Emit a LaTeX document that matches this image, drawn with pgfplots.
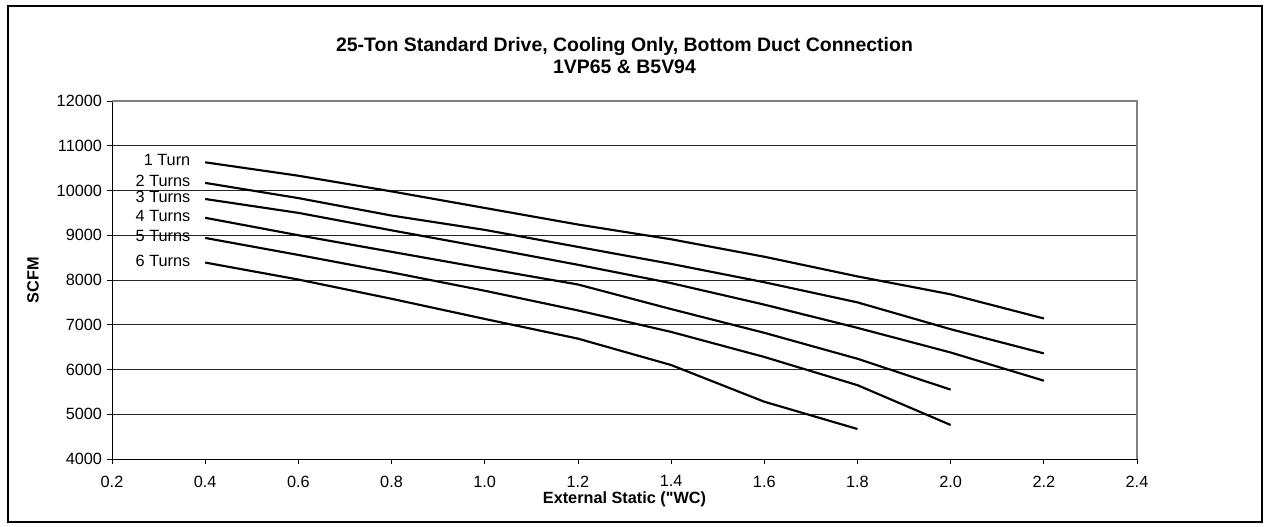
\documentclass[border=0pt]{standalone}
\usepackage{pgfplots}
\pgfplotsset{compat=1.18}
\usepackage{fontspec}
\setmainfont{Liberation Sans}[Ligatures=TeXOff]

% Fan performance: airflow (SCFM) against external static pressure
\pgfplotstableread{
x     y
0.4   10630
0.6   10330
0.8   9980
1.0   9610
1.2   9240
1.4   8910
1.6   8520
1.8   8080
2.0   7680
2.2   7140
}\turnA
\pgfplotstableread{
x     y
0.4   10170
0.6   9830
0.8   9440
1.0   9120
1.2   8740
1.4   8360
1.6   7950
1.8   7500
2.0   6900
2.2   6360
}\turnB
\pgfplotstableread{
x     y
0.4   9810
0.6   9500
0.8   9110
1.0   8730
1.2   8340
1.4   7930
1.6   7450
1.8   6930
2.0   6380
2.2   5750
}\turnC
\pgfplotstableread{
x     y
0.4   9390
0.6   9000
0.8   8630
1.0   8260
1.2   7900
1.4   7350
1.6   6820
1.8   6240
2.0   5550
}\turnD
\pgfplotstableread{
x     y
0.4   8940
0.6   8560
0.8   8170
1.0   7760
1.2   7320
1.4   6840
1.6   6280
1.8   5650
2.0   4760
}\turnE
\pgfplotstableread{
x     y
0.4   8390
0.6   8010
0.8   7580
1.0   7130
1.2   6690
1.4   6100
1.6   5280
1.8   4670
}\turnF

\tikzset{
  curve/.style={black, solid, line width=1.6pt, line join=round, no markers},
  curvelabel/.style={pos=0, anchor=east, xshift=-11pt, yshift=1.5pt,
    font=\fontsize{12.2}{14}\selectfont, inner sep=0pt, line width=0.4pt}}

\begin{document}
\begin{tikzpicture}[x=0.75pt,y=0.75pt]
\path[use as bounding box] (0,0) rectangle (1268,527);
\draw[line width=0.8pt] (8,5) rectangle (1262,521);
\begin{axis}[
  at={(84pt,51pt)}, anchor=south west,
  scale only axis, width=768.75pt, height=268.5pt,
  xmin=0.2, xmax=2.4, ymin=4000, ymax=12000,
  xtick={0.2,0.4,0.6,0.8,1.0,1.2,1.4,1.6,1.8,2.0,2.2,2.4},
  ytick={4000,5000,6000,7000,8000,9000,10000,11000,12000},
  /pgf/number format/assume math mode=true,
  xticklabel style={/pgf/number format/.cd, fixed, fixed zerofill, precision=1,
    /tikz/.cd, yshift=-5pt},
  yticklabel style={/pgf/number format/.cd, fixed, 1000 sep={}},
  scaled y ticks=false, scaled x ticks=false,
  tick label style={font=\fontsize{12.2}{14}\selectfont},
  tick align=outside, tick pos=left, major tick length=4pt,
  tick style={black, line width=0.6pt},
  ymajorgrids, grid style={black!85, line width=0.6pt},
  axis line style={black, line width=0.7pt},
  title={25-Ton Standard Drive, Cooling Only, Bottom Duct Connection\\1VP65 \& B5V94},
  title style={at={(axis description cs:0.5,1.105)}, anchor=center, align=center,
    font=\bfseries\fontsize{14.6}{16.5}\selectfont},
  xlabel={External Static ("WC)},
  xlabel style={at={(axis description cs:0.5,-0.112)}, anchor=center,
    font=\bfseries\fontsize{12.2}{14}\selectfont},
  ylabel={SCFM},
  ylabel style={at={(axis description cs:-0.077,0.5)}, anchor=center,
    font=\bfseries\fontsize{12.2}{14}\selectfont},
  clip=false,
]
\addplot[curve] table[x=x,y=y] {\turnA} node[curvelabel] {1 Turn};
\addplot[curve] table[x=x,y=y] {\turnB} node[curvelabel] {2 Turns};
\addplot[curve] table[x=x,y=y] {\turnC} node[curvelabel] {3 Turns};
\addplot[curve] table[x=x,y=y] {\turnD} node[curvelabel] {4 Turns};
\addplot[curve] table[x=x,y=y] {\turnE} node[curvelabel] {5 Turns};
\addplot[curve] table[x=x,y=y] {\turnF} node[curvelabel] {6 Turns};
% plot-area frame: grey on the top and right
\draw[black!50, line width=0.8pt] (rel axis cs:0,1) -- (rel axis cs:1,1) -- (rel axis cs:1,0);
\end{axis}
\end{tikzpicture}
\end{document}
